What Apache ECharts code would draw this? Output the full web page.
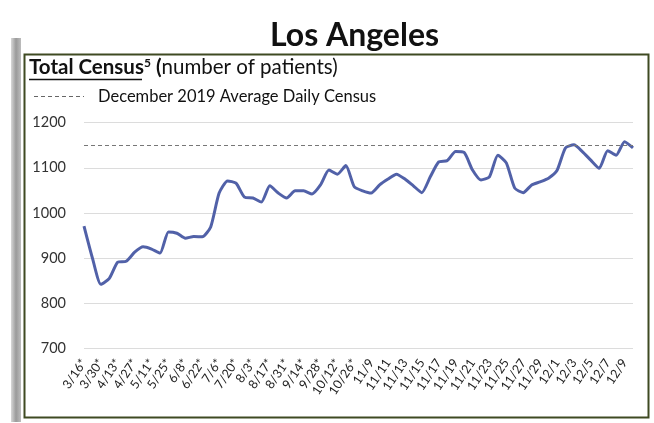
<!DOCTYPE html>
<html>
<head>
<meta charset="utf-8">
<script src="https://cdn.jsdelivr.net/npm/echarts@6/dist/echarts.min.js"></script>
<style>
  html, body { margin: 0; padding: 0; background: #ffffff; }
  #chart { width: 654px; height: 423px; }
</style>
</head>
<body>
<div id="chart"></div>
<script>
// Weekly points (marked *) through early November, then daily points
const categories = [
  '3/16*', '3/23*', '3/30*', '4/6*', '4/13*', '4/20*', '4/27*', '5/4*', '5/11*', '5/18*',
  '5/25*', '6/1*', '6/8*', '6/15*', '6/22*', '6/29*', '7/6*', '7/13*', '7/20*', '7/27*',
  '8/3*', '8/10*', '8/17*', '8/24*', '8/31*', '9/7*', '9/14*', '9/21*', '9/28*', '10/5*',
  '10/12*', '10/19*', '10/26*', '11/2*',
  '11/9', '11/10', '11/11', '11/12', '11/13', '11/14', '11/15', '11/16', '11/17', '11/18',
  '11/19', '11/20', '11/21', '11/22', '11/23', '11/24', '11/25', '11/26', '11/27', '11/28',
  '11/29', '11/30', '12/1', '12/2', '12/3', '12/4', '12/5', '12/6', '12/7', '12/8',
  '12/9', '12/10'
];

const totalCensus = [
  971, 900, 842, 855, 891, 893, 913, 925, 920, 911,
  958, 955, 944, 948, 947, 969, 1044, 1071, 1066, 1035,
  1033, 1024, 1060, 1044, 1033, 1049, 1049, 1042, 1062, 1095,
  1086, 1105, 1058, 1049,
  1044, 1062, 1075, 1086, 1075, 1060, 1045, 1080, 1113, 1116,
  1136, 1134, 1095, 1073, 1080, 1128, 1111, 1055, 1045, 1062,
  1069, 1077, 1094, 1144, 1151, 1136, 1117, 1099, 1138, 1128,
  1158, 1144
];

const dec2019AverageDailyCensus = 1150;

const yTicks = { min: 700, max: 1200, interval: 100 };

const FONT = 'Lato, "Open Sans", sans-serif';
const lastIndex = totalCensus.length - 1;

const chart = echarts.init(document.getElementById('chart'), null, { renderer: 'canvas' });

chart.setOption({
  backgroundColor: '#ffffff',
  animation: false,
  title: {
    text: 'Los Angeles',
    left: 265,
    top: 15,
    textStyle: { fontFamily: FONT, fontSize: 32, fontWeight: 'bold', color: '#111' }
  },
  graphic: [
    // shaded left edge of the panel
    {
      type: 'rect', left: 11, top: 38, z: 0,
      shape: { width: 10, height: 384 },
      style: {
        fill: new echarts.graphic.LinearGradient(0, 0, 1, 0, [
          { offset: 0, color: '#d8d8d8' },
          { offset: 0.5, color: '#9a9a9a' },
          { offset: 1, color: '#bdbdbd' }
        ])
      }
    },
    // panel frame
    {
      type: 'rect', left: 22, top: 52, z: 1,
      shape: { width: 624, height: 363 },
      style: { fill: 'none', stroke: '#3f4a22', lineWidth: 2 }
    },
    // subtitle
    {
      type: 'text', left: 29, top: 57, z: 5,
      style: {
        text: '{b|Total Census}{s|5}{b| (}{n|number of patients)}',
        rich: {
          b: { fontFamily: FONT, fontSize: 20.5, fontWeight: 'bold', fill: '#111' },
          s: { fontFamily: FONT, fontSize: 12, fontWeight: 'bold', fill: '#111', verticalAlign: 'top', padding: [0, 0, 9, 0] },
          n: { fontFamily: FONT, fontSize: 20.5, fill: '#111' }
        }
      }
    },
    {
      type: 'line', z: 5,
      shape: { x1: 29, y1: 79.5, x2: 142, y2: 79.5 },
      style: { stroke: '#111', lineWidth: 1.4 }
    },
    // legend entry for the reference line
    {
      type: 'line', z: 5,
      shape: { x1: 34, y1: 96.5, x2: 84, y2: 96.5 },
      style: { stroke: '#666', lineWidth: 1, lineDash: [4, 3] }
    },
    {
      type: 'text', left: 98, top: 88, z: 5,
      style: { text: 'December 2019 Average Daily Census', fontFamily: FONT, fontSize: 16.5, fill: '#111' }
    }
  ],
  grid: { left: 84, right: 21, top: 122.7, bottom: 74.7, containLabel: false },
  xAxis: {
    type: 'category',
    data: categories,
    boundaryGap: false,
    axisLine: { show: false },
    axisTick: { show: false },
    axisLabel: {
      interval: 1,
      rotate: 56,
      margin: 12,
      fontFamily: FONT,
      fontSize: 12.5,
      color: '#222'
    },
    splitLine: { show: false }
  },
  yAxis: {
    type: 'value',
    min: yTicks.min,
    max: yTicks.max,
    interval: yTicks.interval,
    axisLine: { show: false },
    axisTick: { show: false },
    axisLabel: {
      fontFamily: FONT, fontSize: 14.5, color: '#333', margin: 18,
      formatter: (v) => String(v)
    },
    splitLine: { lineStyle: { color: '#dcdcdc', width: 1.2 } }
  },
  series: [
    {
      name: 'Total Census',
      type: 'line',
      data: totalCensus.map((v, i) => i === lastIndex
        ? { value: v, label: { show: true } }
        : v),
      smooth: 0.2,
      symbol: 'none',
      lineStyle: { color: '#5161a8', width: 3 },
      label: {
        show: false,
        position: 'bottom',
        offset: [-6, 2],
        fontFamily: FONT,
        fontSize: 17,
        fontWeight: 'bold',
        color: '#111'
      },
      markLine: {
        silent: true,
        symbol: 'none',
        label: { show: false },
        lineStyle: { color: '#777', type: [4, 3], width: 1 },
        data: [{ yAxis: dec2019AverageDailyCensus }]
      },
      z: 3
    }
  ]
});
</script>
</body>
</html>
